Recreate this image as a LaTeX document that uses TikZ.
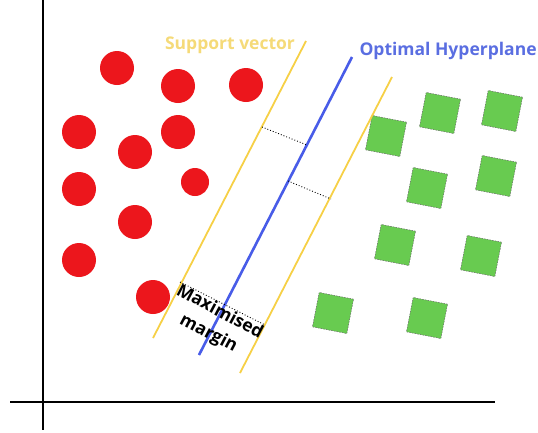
\documentclass[tikz,border=0pt]{standalone}
\usepackage{fontspec}
\setmainfont{Open Sans}
\usetikzlibrary{calc}
\definecolor{ptred}{RGB}{236,22,28}
\definecolor{ptgreen}{RGB}{104,203,80}
\definecolor{svyellow}{RGB}{246,208,70}
\definecolor{svtext}{RGB}{245,218,120}
\definecolor{hpblue}{RGB}{72,92,232}
\definecolor{hptext}{RGB}{90,110,225}
\tikzset{
  redpt/.style={circle, fill=ptred, inner sep=0pt, minimum size=34pt},
  greenpt/.style={rectangle, fill=ptgreen, draw=black!60, line width=0.5pt, dash pattern=on 1.5pt off 1.2pt, inner sep=0pt, minimum size=35pt, rotate=-11},
  svline/.style={draw=svyellow, line width=1.8pt},
  hpline/.style={draw=hpblue, line width=2.6pt},
  gap/.style={draw=black, line width=0.9pt, dotted},
  lbl/.style={font=\fontsize{17.5}{20}\selectfont\bfseries}
}
\begin{document}
\begin{tikzpicture}[x=1pt, y=-1pt]
        \useasboundingbox (0, 0) rectangle (538, 432);
        % axes
        \coordinate (yaxtop) at (43, 0);
        \coordinate (yaxbot) at (43, 430);
        \coordinate (xaxl) at (10, 402);
        \coordinate (xaxr) at (495, 402);
        \draw[line width=1.4pt] (yaxtop) -- (yaxbot);
        \draw[line width=1.4pt] (xaxl) -- (xaxr);
        % class one
        \node[redpt] (r1) at (117, 68) {};
        \node[redpt] (r2) at (178, 86) {};
        \node[redpt] (r3) at (246, 85) {};
        \node[redpt] (r4) at (79, 132) {};
        \node[redpt] (r5) at (178, 132) {};
        \node[redpt] (r6) at (135, 152) {};
        \node[redpt] (r7) at (79, 189) {};
        \node[redpt, minimum size=28pt] (r8) at (195, 182) {};
        \node[redpt] (r9) at (135, 222) {};
        \node[redpt] (r10) at (79, 260) {};
        \node[redpt] (r11) at (153, 297) {};
        % class two
        \node[greenpt] (g1) at (386, 136) {};
        \node[greenpt] (g2) at (440, 113) {};
        \node[greenpt] (g3) at (502, 111) {};
        \node[greenpt] (g4) at (427, 188) {};
        \node[greenpt] (g5) at (496, 176) {};
        \node[greenpt] (g6) at (395, 245) {};
        \node[greenpt] (g7) at (481, 256) {};
        \node[greenpt] (g8) at (333, 313) {};
        \node[greenpt] (g9) at (427, 318) {};
        % support vectors and hyperplane
        \coordinate (sv1b) at (153, 338);
        \coordinate (sv1t) at (306, 41);
        \coordinate (hpb) at (199, 355);
        \coordinate (hpt) at (352, 57);
        \coordinate (sv2b) at (240, 373);
        \coordinate (sv2t) at (392, 77);
        \draw[svline] (sv1b) -- (sv1t);
        \draw[svline] (sv2b) -- (sv2t);
        \draw[hpline] (hpb) -- (hpt);
        % margins
        \coordinate (m1a) at (262, 127);
        \coordinate (m1b) at (307, 145);
        \coordinate (m2a) at (288, 181);
        \coordinate (m2b) at (331, 199);
        \coordinate (m3a) at (180, 282);
        \coordinate (m3b) at (265, 325);
        \draw[gap] (m1a) -- (m1b);
        \draw[gap] (m2a) -- (m2b);
        \draw[gap] (m3a) -- (m3b);
        % labels
        \node[lbl, text=svtext] (svlbl) at (230, 45) {Support vector};
        \node[lbl, text=hptext, anchor=west] (hplbl) at (356, 51) {Optimal Hyperplane};
        \node[align=center, rotate=-28, inner sep=0pt, font=\fontsize{17.5}{24}\selectfont\bfseries] (mlbl) at (214, 323) {Maximised\\margin};
      \end{tikzpicture}
\end{document}
